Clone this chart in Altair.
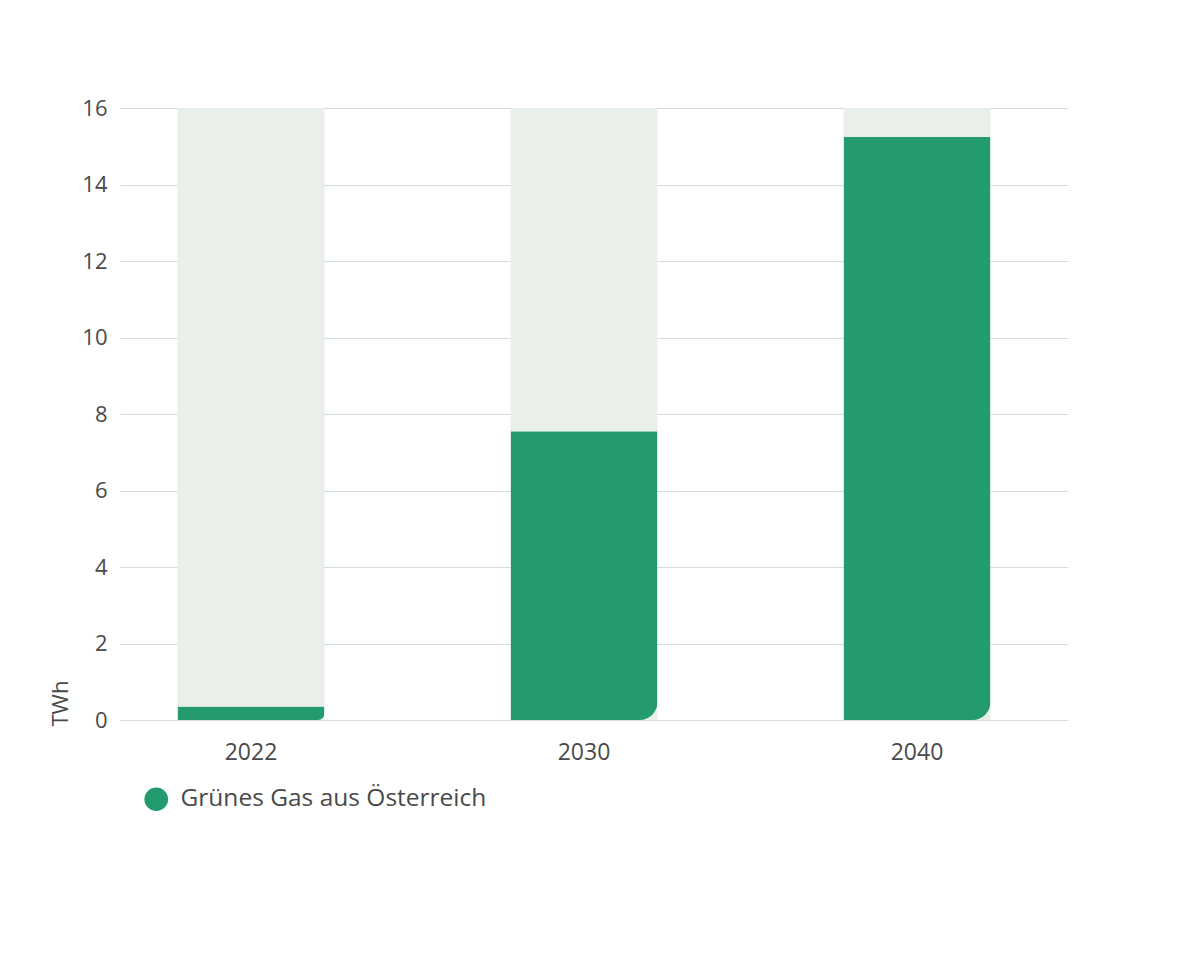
import altair as alt
import pandas as pd

years = ["2022", "2030", "2040"]
values = [0.35, 7.55, 15.25]
totals = [16, 16, 16]
series = "Grünes Gas aus Österreich"

df = pd.DataFrame({"year": years, "value": values, "total": totals, "series": [series] * 3})

FONT = "Open Sans"
GREEN = "#249b6e"
TXT = "#4a4a4a"

x = alt.X("year:N", sort=years, title=None,
          scale=alt.Scale(paddingInner=0.5586, paddingOuter=0.2027, align=0.426),
          axis=alt.Axis(labelAngle=0, labelFont=FONT, labelFontSize=23, labelColor=TXT,
                        labelPadding=21, ticks=False, domain=False, grid=False))

bg = alt.Chart(df).mark_bar(color="#e9efe9").encode(
    x=x,
    y=alt.Y("total:Q", scale=alt.Scale(domain=[0, 16]),
            axis=alt.Axis(values=list(range(0, 17, 2)), title="TWh", labelFont=FONT, labelFontSize=22,
                          labelColor=TXT, labelPadding=13, ticks=False, domain=False,
                          gridColor="#d3dfd3", gridWidth=1.2,
                          titleFont=FONT, titleFontSize=22, titleFontWeight="normal", titleColor=TXT,
                          titleAngle=270, titleX=-60, titleY=618, titleAlign="left", titleBaseline="middle")),
)

fg = alt.Chart(df).mark_bar(cornerRadiusBottomRight=18).encode(
    x=x,
    y=alt.Y("value:Q"),
    color=alt.Color("series:N", scale=alt.Scale(domain=[series], range=[GREEN]),
                    legend=alt.Legend(title=None, orient="none", legendX=24, legendY=679,
                                      symbolType="circle", symbolSize=560, symbolStrokeWidth=0,
                                      labelFont=FONT, labelFontSize=24.5, labelColor=TXT,
                                      labelOffset=12, labelLimit=600)),
)

chart = alt.layer(bg, fg).properties(
    width=948, height=612,
    autosize=alt.AutoSizeParams(type="none"),
    padding={"left": 112, "top": 100, "right": 124, "bottom": 232},
).configure_view(stroke=None)

chart.save("out.html", embed_options={"renderer": "svg", "actions": False})
